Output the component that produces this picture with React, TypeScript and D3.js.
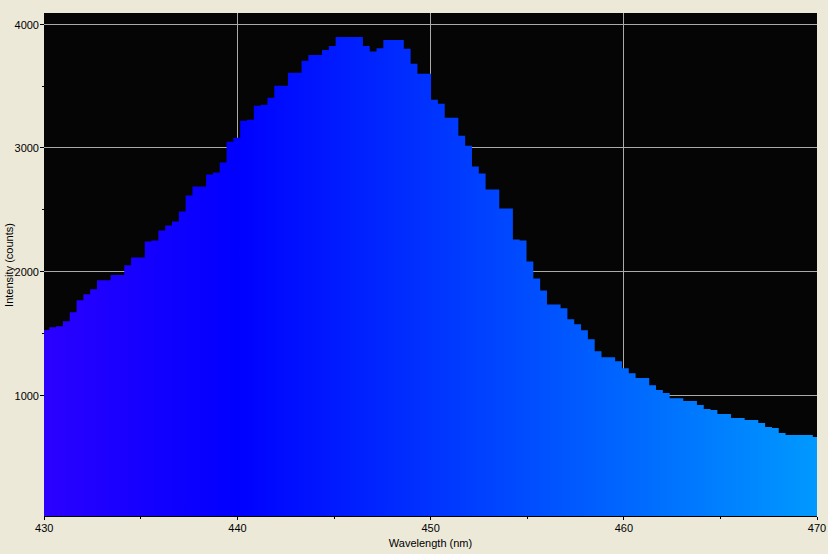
import React from 'react';
import * as d3 from 'd3';

// spectrometer readout, one value per detector pixel (counts)
const counts = [
  1527, 1551, 1559, 1599, 1672, 1769, 1817, 1857, 1930, 1930,
  1973, 1973, 2051, 2115, 2115, 2244, 2252, 2333, 2373, 2405,
  2486, 2615, 2688, 2688, 2785, 2801, 2882, 3051, 3083, 3220,
  3228, 3341, 3349, 3405, 3502, 3502, 3607, 3607, 3704, 3752,
  3752, 3792, 3825, 3897, 3897, 3897, 3897, 3825, 3780, 3805,
  3873, 3873, 3873, 3801, 3680, 3599, 3599, 3389, 3357, 3244,
  3244, 3099, 3018, 2849, 2793, 2664, 2664, 2510, 2510, 2260,
  2252, 2082, 1945, 1848, 1735, 1735, 1703, 1614, 1574, 1526,
  1453, 1356, 1308, 1308, 1276, 1219, 1179, 1139, 1139, 1082,
  1042, 1018, 977, 977, 953, 953, 921, 889, 881, 849,
  849, 816, 816, 800, 800, 776, 744, 736, 695, 679,
  679, 679, 679, 663,
];
// wavelength of the first pixel and pixel spacing (nm)
const binStart = 429.906;
const binWidth = 0.3529;

const xMajorTicks = [430, 440, 450, 460, 470];
const xMinorTicks = [435, 445, 455, 465];
const yMajorTicks = [1000, 2000, 3000, 4000];
const yMinorTicks = [1500, 2500, 3500];
const gradientStops = [430, 440, 470];

const W = 828;
const H = 554;
const left = 44, right = 817, top = 13, bottom = 517;
const font = '"Liberation Sans", Arial, sans-serif';

// rough visible-spectrum colour for a wavelength
function spectrumColor(w: number) {
  if (w < 440) return d3.rgb((255 * (440 - w)) / 60, 0, 255).formatHex();
  if (w < 490) return d3.rgb(0, (255 * (w - 440)) / 50, 255).formatHex();
  return d3.rgb(0, 255, 255).formatHex();
}

const crisp = (v: number) => Math.floor(v) + 0.5;

export default function App() {
  const x = d3.scaleLinear().domain([430, 470]).range([44.3, 817]);
  const y = d3.scaleLinear().domain([16, 4091]).range([bottom, top]);

  const bins = counts.map((c, i) => ({ w: binStart + i * binWidth, c }));
  bins.push({ w: binStart + counts.length * binWidth, c: counts[counts.length - 1] });

  const area = d3.area<any>()
    .x(d => x(d.w))
    .y0(bottom)
    .y1(d => y(d.c))
    .curve(d3.curveStepAfter);

  return (
    <svg width={W} height={H} style={{ position: 'absolute', left: 0, top: 0, background: '#ECE9D8' }}>
      <defs>
        <linearGradient id="spec" gradientUnits="userSpaceOnUse" x1={x(430)} x2={x(470)} y1={0} y2={0}>
          {gradientStops.map(w => (
            <stop key={w} offset={(w - 430) / 40} stopColor={spectrumColor(w)} />
          ))}
        </linearGradient>
        <clipPath id="plotClip">
          <rect x={left} y={top} width={right - left} height={bottom - top} />
        </clipPath>
      </defs>
      <rect x={0} y={0} width={W} height={H} fill="#ECE9D8" />
      <rect x={left} y={top} width={right - left} height={bottom - top} fill="#050505" />

      {/* grid */}
      <g stroke="#ABABAB" strokeWidth={1} shapeRendering="crispEdges">
        {yMajorTicks.map(v => (
          <line key={'gy' + v} x1={left} x2={right} y1={crisp(y(v))} y2={crisp(y(v))} />
        ))}
        {xMajorTicks.filter(v => v > 430 && v < 470).map(v => (
          <line key={'gx' + v} x1={crisp(x(v))} x2={crisp(x(v))} y1={top} y2={bottom} />
        ))}
      </g>

      <path d={area(bins) as string} fill="url(#spec)" clipPath="url(#plotClip)" />

      {/* y axis */}
      <g stroke="#000" shapeRendering="crispEdges">
        {yMajorTicks.map(v => (
          <line key={'ty' + v} x1={40} x2={left} y1={crisp(y(v))} y2={crisp(y(v))} />
        ))}
        {yMinorTicks.map(v => (
          <line key={'my' + v} x1={42} x2={left} y1={crisp(y(v))} y2={crisp(y(v))} />
        ))}
        {xMajorTicks.map(v => (
          <line key={'tx' + v} x1={crisp(x(v))} x2={crisp(x(v))} y1={bottom} y2={bottom + 3} />
        ))}
        {xMinorTicks.map(v => (
          <line key={'mx' + v} x1={crisp(x(v))} x2={crisp(x(v))} y1={bottom} y2={bottom + 2} />
        ))}
        <line x1={left} x2={right} y1={bottom - 0.5} y2={bottom - 0.5} />
      </g>

      <g fontFamily={font} fontSize={11} fill="#000">
        {yMajorTicks.map(v => (
          <text key={'ly' + v} x={39} y={Math.floor(y(v)) + 4.5} textAnchor="end">{v}</text>
        ))}
        {xMajorTicks.map(v => (
          <text key={'lx' + v} x={x(v)} y={532} textAnchor="middle">{v}</text>
        ))}
        <text x={430.5} y={547} textAnchor="middle">Wavelength (nm)</text>
        <text transform="translate(13,265) rotate(-90)" textAnchor="middle">Intensity (counts)</text>
      </g>
    </svg>
  );
}
